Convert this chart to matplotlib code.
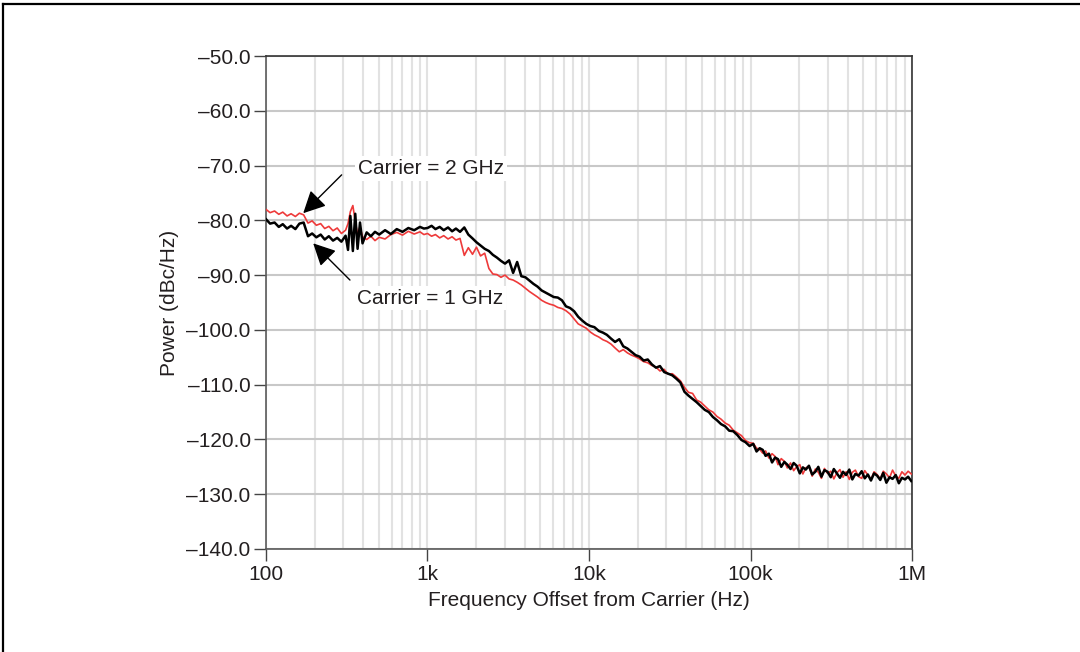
import matplotlib
matplotlib.use("Agg")
import matplotlib.pyplot as plt
from matplotlib.lines import Line2D
from matplotlib.ticker import FixedLocator, LogLocator, NullFormatter, FuncFormatter

plt.rcParams['font.family'] = ['Liberation Sans', 'DejaVu Sans']

# Frequency offsets (Hz), one chunk per decade
freq_d1 = [100, 106, 113, 120, 127, 135, 143, 152, 161, 171,
           182, 193, 205, 218, 231, 245, 260, 276, 293, 311,
           322, 333, 345, 357, 369, 382, 396, 420, 446, 473,
           502, 546, 593, 645, 700, 761, 827, 898, 950]
freq_d2 = [1000, 1060, 1120, 1190, 1260, 1340, 1420, 1500, 1590, 1690,
           1790, 1900, 2010, 2130, 2260, 2400, 2540, 2690, 2850, 3020,
           3200, 3390, 3590, 3810, 4040, 4280, 4530, 4800, 5090, 5390,
           5710, 6050, 6410, 6800, 7200, 7630, 8090, 8570, 9080, 9620]
freq_d3 = [10200, 10800, 11500, 12200, 12900, 13700, 14500, 15400, 16300, 17300,
           18300, 19400, 20600, 21800, 23100, 24500, 26000, 27500, 29200, 30900,
           32800, 34700, 36800, 39000, 41300, 43800, 46400, 49200, 52100, 55200,
           58500, 62000, 65700, 69600, 73800, 78200, 82900, 87900, 93100, 98700]
freq_d4 = [104000, 109000, 114000, 119000, 124000, 130000, 136000, 142000, 148000, 155000,
           162000, 169000, 177000, 185000, 193000, 202000, 211000, 220000, 230000, 241000,
           252000, 263000, 275000, 287000, 300000, 314000, 328000, 343000, 358000, 374000,
           391000, 409000, 427000, 446000, 467000, 488000, 510000, 533000, 557000, 582000,
           608000, 636000, 664000, 694000, 726000, 758000, 793000, 829000, 866000, 905000,
           946000, 990000]

# Carrier = 1 GHz (black), dBc/Hz
black_d1 = [-79.8, -80.6, -80.4, -81.2, -80.7, -81.5, -81.0, -81.6, -80.6, -80.4,
            -82.9, -82.4, -83.1, -82.6, -83.5, -82.9, -83.7, -83.2, -83.9, -82.8,
            -85.4, -79.2, -85.6, -78.8, -85.2, -80.4, -84.2, -82.2, -82.9, -82.1,
            -82.6, -81.8, -82.5, -81.6, -82.1, -81.4, -81.8, -81.2, -81.5]
black_d2 = [-81.4, -81.0, -81.6, -81.2, -81.8, -81.3, -82.0, -81.5, -82.1, -81.3,
            -82.6, -83.3, -84.0, -84.6, -85.2, -85.6, -86.3, -86.8, -87.4, -87.9,
            -87.3, -89.6, -87.6, -90.2, -90.4, -91.0, -91.6, -92.1, -92.8, -93.2,
            -93.6, -94.0, -94.1, -94.6, -95.7, -96.0, -96.6, -97.6, -98.3, -98.9]
black_d3 = [-99.3, -99.5, -100.2, -100.5, -100.9, -101.6, -102.2, -101.7, -103.0, -103.4,
            -104.0, -104.6, -104.9, -105.6, -105.4, -106.3, -106.9, -106.6, -107.7, -108.0,
            -108.3, -108.9, -109.6, -111.3, -112.0, -112.6, -113.2, -113.9, -114.6, -115.0,
            -115.9, -116.5, -117.2, -117.6, -118.4, -118.5, -119.2, -120.1, -120.5, -121.2]
black_d4 = [-120.8, -122.2, -121.6, -121.9, -123.0, -122.6, -124.2, -123.3, -123.6, -125.0,
            -124.1, -124.6, -125.4, -124.3, -124.8, -126.2, -125.1, -125.5, -124.8, -126.4,
            -125.9, -125.0, -126.8, -125.6, -125.9, -126.9, -125.4, -126.2, -127.0, -125.9,
            -126.5, -125.5, -127.3, -126.3, -126.6, -125.8, -127.1, -126.4, -127.5, -126.2,
            -126.6, -127.4, -126.1, -127.9, -126.9, -127.2, -126.5, -128.0, -127.0, -127.3,
            -126.8, -127.6]

# Carrier = 2 GHz (red), dBc/Hz
red_d1 = [-78.0, -78.6, -78.3, -78.9, -78.5, -79.2, -78.8, -79.3, -78.7, -79.0,
          -80.5, -80.1, -80.9, -80.6, -81.5, -81.1, -81.9, -81.4, -82.4, -81.8,
          -80.6, -78.4, -77.3, -80.2, -82.6, -81.2, -83.0, -83.5, -82.9, -83.7,
          -83.1, -83.4, -82.6, -82.2, -82.7, -82.0, -82.5, -82.1, -82.6]
red_d2 = [-82.4, -82.9, -82.6, -83.2, -82.8, -83.4, -83.0, -83.6, -83.3, -86.4,
          -85.0, -86.2, -84.9, -86.5, -86.0, -88.8, -89.8, -89.9, -90.4, -90.0,
          -90.7, -90.9, -91.3, -91.8, -92.4, -93.0, -93.5, -94.0, -94.6, -95.0,
          -95.3, -95.5, -95.9, -96.1, -96.5, -97.1, -98.0, -98.9, -99.3, -99.7]
red_d3 = [-100.4, -100.9, -101.3, -101.8, -102.1, -102.6, -103.3, -104.0, -103.6, -104.2,
          -104.6, -104.9, -105.3, -105.8, -106.0, -106.5, -106.8, -107.5, -107.2, -108.1,
          -108.0, -108.6, -109.3, -110.5, -111.4, -111.6, -112.8, -113.2, -113.9, -114.6,
          -115.0, -115.8, -116.3, -117.0, -117.4, -118.3, -118.8, -119.3, -120.2, -120.6]
red_d4 = [-120.7, -121.6, -121.8, -122.5, -122.1, -123.4, -122.6, -123.1, -124.6, -123.5,
          -124.0, -125.2, -124.3, -125.7, -125.0, -124.6, -126.3, -125.2, -124.9, -126.7,
          -125.4, -126.0, -127.1, -125.3, -126.2, -125.8, -127.2, -126.1, -125.5, -126.9,
          -125.9, -127.3, -126.0, -125.6, -126.8, -127.1, -125.7, -126.5, -127.3, -125.9,
          -126.4, -127.2, -125.8, -126.3, -127.0, -125.6, -126.7, -127.1, -125.9, -126.5,
          -125.8, -126.3]

freq = freq_d1 + freq_d2 + freq_d3 + freq_d4
black = black_d1 + black_d2 + black_d3 + black_d4
red = red_d1 + red_d2 + red_d3 + red_d4

x_ticks = [1e2, 1e3, 1e4, 1e5, 1e6]
x_labels = ["100", "1k", "10k", "100k", "1M"]
y_ticks = [-50, -60, -70, -80, -90, -100, -110, -120, -130, -140]

txt = '#231f20'
fs = 15

fig = plt.figure(figsize=(10.8, 6.52), dpi=100)
ax = fig.add_axes([266 / 1080, 1 - 549 / 652, 646 / 1080, 493 / 652])

ax.plot(freq, red, color='#ee3a3a', lw=1.2, zorder=3)
ax.plot(freq, black, color='black', lw=1.8, zorder=4)

ax.set_xscale('log')
ax.set_xlim(100, 1e6)
ax.set_ylim(-140, -50)

ax.xaxis.set_major_locator(FixedLocator(x_ticks))
ax.set_xticklabels(x_labels)
ax.xaxis.set_minor_locator(LogLocator(base=10, subs=range(2, 10)))
ax.xaxis.set_minor_formatter(NullFormatter())
ax.yaxis.set_major_locator(FixedLocator(y_ticks))
ax.yaxis.set_major_formatter(FuncFormatter(lambda v, p: f"{v:.1f}".replace('-', '\u2013')))

ax.tick_params(axis='both', which='major', direction='out', length=8.5, width=1,
               color='#444444', labelsize=fs, labelcolor=txt)
ax.tick_params(axis='x', which='major', pad=3.0)
ax.tick_params(axis='y', which='major', pad=2.5)
ax.tick_params(axis='x', which='minor', length=0)

ax.grid(True, axis='y', which='major', color='#c8c8c8', lw=1.5, zorder=0)
ax.grid(True, axis='x', which='both', color='#e2e2e2', lw=1.5, zorder=0)
ax.set_axisbelow(True)

for side in ['left', 'bottom']:
    ax.spines[side].set_color('#5a5a5a')
    ax.spines[side].set_linewidth(1.2)
for side in ['top', 'right']:
    ax.spines[side].set_color('#333333')
    ax.spines[side].set_linewidth(1.2)

ax.set_xlabel("Frequency Offset from Carrier (Hz)", fontsize=fs, color=txt)
ax.set_ylabel("Power (dBc/Hz)", fontsize=fs, color=txt)
ax.xaxis.set_label_coords(0.5, -0.085)
ax.yaxis.set_label_coords(-0.1347, 0.5)

# annotations
ax.text(371, -70.5, "Carrier = 2 GHz", fontsize=fs, color=txt, va='center', ha='left',
        bbox=dict(fc='white', ec='none', pad=2), zorder=5)
ax.text(366, -94.2, "Carrier = 1 GHz", fontsize=fs, color=txt, va='center', ha='left',
        bbox=dict(fc='white', ec='none', pad=2), zorder=5)
arrow = dict(arrowstyle='-|>', color='black', lw=1.0, mutation_scale=34,
             shrinkA=0, shrinkB=0)
ax.annotate("", xy=(170, -78.7), xytext=(294, -71.7), arrowprops=arrow, zorder=6)
ax.annotate("", xy=(196, -84.2), xytext=(331, -90.9), arrowprops=arrow, zorder=6)

# outer frame (top and left edges only)
x0 = 2.8 / 1080
y1 = 1 - 3.7 / 652
fig.add_artist(Line2D([x0, x0], [0, y1], transform=fig.transFigure, color='black', lw=1.6))
fig.add_artist(Line2D([x0, 1], [y1, y1], transform=fig.transFigure, color='black', lw=1.6))

fig.savefig("out.png", dpi=100)
